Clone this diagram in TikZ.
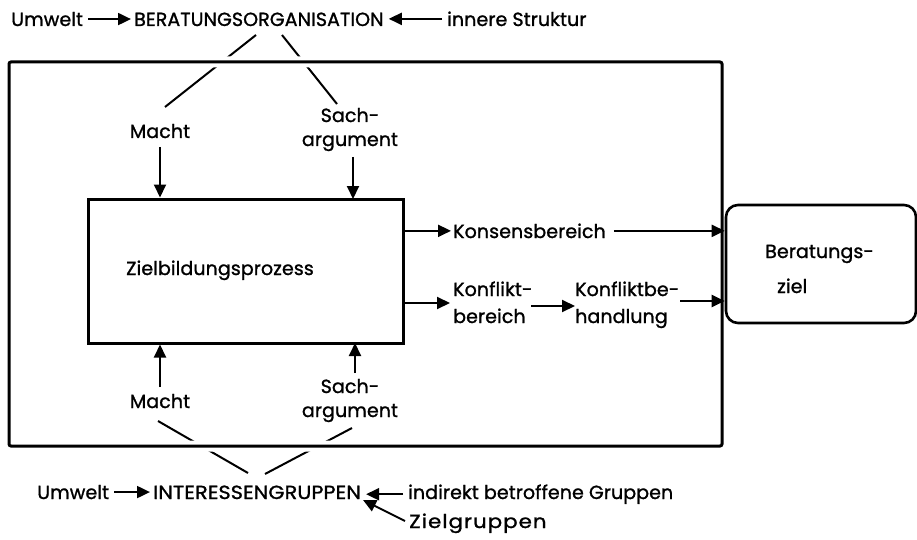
\documentclass[tikz,border=0pt]{standalone}
\usepackage{fontspec}
\setmainfont{Poppins}
\newfontfamily\lblfamily{Poppins}[FakeBold=1.2]
\newcommand{\lblfnt}[1]{\lblfamily\fontsize{19}{#1}\selectfont\addfontfeature{LetterSpace=0.5}}
\usetikzlibrary{arrows.meta,calc}
\begin{document}
\begin{tikzpicture}[x=1pt,y=-1pt,
  lbl/.style={inner sep=0pt, font=\lblfnt{24}},
  arr/.style={-{Triangle[length=13pt,width=12pt]}, line width=2pt},
  ln/.style={line width=2pt},
  frameline/.style={line width=3pt, rounded corners=2pt},
  boxline/.style={draw, line width=3pt, inner sep=0pt},
]
\useasboundingbox (0,0) rectangle (917,540);

% ---------- top row ----------
\node[lbl, anchor=base west] (umw1) at (11,26) {Umwelt};
\node[lbl, anchor=base west] (bo) at (134,26) {BERATUNGSORGANISATION};
\node[lbl, anchor=base west] (inn) at (447,26) {innere Struktur};
\draw[arr, shorten <=5pt, shorten >=3pt] (umw1.east) -- (umw1.east -| bo.west);
\draw[arr, shorten <=5pt, shorten >=5pt] (inn.west) -- (inn.west -| bo.east);

% ---------- upper labels ----------
\node[lbl, anchor=base] (mt) at (160,138) {Macht};
\node[lbl, anchor=base, align=center] (st) at (350,146) {Sach-\\argument};

\coordinate (bol) at (256,35);
\coordinate (mtl) at (165,107);
\coordinate (bor) at (282,35);
\coordinate (str) at (337,104);
\draw[ln] (bol) -- (mtl);
\draw[ln] (bor) -- (str);

% ---------- lower labels ----------
\node[lbl, anchor=base] (mb) at (160,408) {Macht};
\node[lbl, anchor=base, align=center] (sb) at (350,417) {Sach-\\argument};
\node[lbl, anchor=base west] (ig) at (153,499) {\scalebox{1.09}[1]{INTERESSENGRUPPEN}};
\node[lbl, anchor=base west] (umw2) at (37,499) {Umwelt};
\node[lbl, anchor=base west] (ind) at (408,499) {indirekt betroffene Gruppen};
\node[lbl, anchor=base west] (zg) at (409,528) {\scalebox{1.12}[1]{\addfontfeature{LetterSpace=5}Zielgruppen}};

\coordinate (mbl) at (158,421);
\coordinate (igl) at (248,473);
\coordinate (sbr) at (352,428);
\coordinate (igr) at (265,474);
\draw[ln] (mbl) -- (igl);
\draw[ln] (sbr) -- (igr);

% ---------- frame ----------
\draw[frameline, preaction={draw, white, line width=11pt}] (9,62) rectangle (722,446);

\coordinate (zgtail) at (405,521);
\coordinate (igtip) at (363,500);
\draw[arr, shorten <=5pt, shorten >=3pt] (umw2.east) -- (umw2.east -| ig.west);
\draw[arr, shorten <=5pt, shorten >=5pt] (ind.west) -- (ind.west -| ig.east);
\draw[arr] (zgtail) -- (igtip);

% ---------- inner box ----------
\node[boxline, minimum width=315pt, minimum height=144pt] (zb) at (245.5,271) {};
\node[lbl, anchor=base west] (zbt) at (126,275) {Zielbildungsprozess};

\draw[arr] (mt.south |- 0,147) -- (mt.south |- zb.north);
\draw[arr] (353,157) -- (353,199);
\draw[arr] (mb.north |- 0,387) -- (mb.north |- zb.south);
\draw[arr] (355,373) -- (355,343);

% ---------- right part ----------
\node[draw, line width=2.6pt, rounded corners=12pt, minimum width=190pt, minimum height=118pt, inner sep=0pt] (bz) at (821,264) {};
\node[lbl, anchor=base west, align=left, font=\lblfnt{35}] (bzt) at (765,293) {Beratungs-\\\hspace*{12pt}ziel};

\node[lbl, anchor=base west] (kons) at (453,238) {Konsensbereich};
\node[lbl, anchor=base west, align=left, font=\lblfnt{27}] (konf) at (453,323) {Konflikt-\\bereich};
\node[lbl, anchor=base west, align=left, font=\lblfnt{27}] (kbh) at (575,323) {Konfliktbe-\\handlung};

\draw[arr, shorten >=2pt] (zb.east |- kons.west) -- (kons.west);
\draw[arr, shorten <=8pt] (kons.east) -- (kons.east -| bz.west);
\draw[arr, shorten >=3pt] (zb.east |- 0,303) -- (konf.west |- 0,303);
\draw[arr] (531,306) -- (kbh.west |- 0,306);
\draw[arr] (680,301) -- (bz.west |- 0,301);
\end{tikzpicture}
\end{document}
